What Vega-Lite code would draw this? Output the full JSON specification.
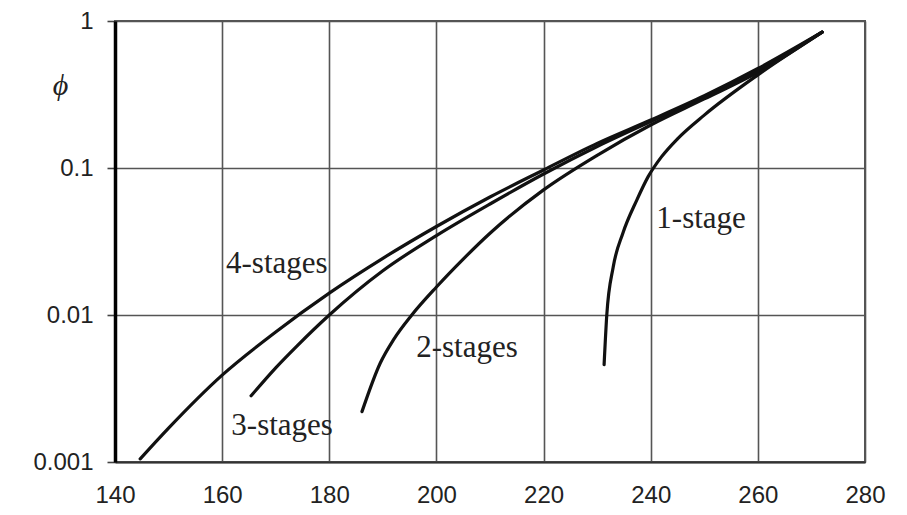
{
  "$schema": "https://vega.github.io/schema/vega-lite/v6.json",
  "width": 750,
  "height": 441,
  "autosize": "none",
  "padding": {"left": 115, "top": 21, "right": 42, "bottom": 53},
  "background": "white",
  "config": {
    "view": {"stroke": "#555", "strokeWidth": 2},
    "axis": {"labelFont": "Liberation Sans", "labelColor": "#222", "labelFontSize": 24, "gridColor": "#555", "gridWidth": 1.6, "gridOpacity": 1}
  },
  "datasets": {
    "curves": [
      {"series": "4-stages", "T": 144.7, "phi": 0.00105},
      {"series": "4-stages", "T": 150, "phi": 0.0017},
      {"series": "4-stages", "T": 160, "phi": 0.0039},
      {"series": "4-stages", "T": 170, "phi": 0.00767},
      {"series": "4-stages", "T": 180, "phi": 0.0141},
      {"series": "4-stages", "T": 190, "phi": 0.0243},
      {"series": "4-stages", "T": 200, "phi": 0.040},
      {"series": "4-stages", "T": 210, "phi": 0.0635},
      {"series": "4-stages", "T": 220, "phi": 0.097},
      {"series": "4-stages", "T": 230, "phi": 0.147},
      {"series": "4-stages", "T": 240, "phi": 0.212},
      {"series": "4-stages", "T": 250, "phi": 0.31},
      {"series": "4-stages", "T": 260, "phi": 0.475},
      {"series": "4-stages", "T": 272, "phi": 0.84},
      {"series": "3-stages", "T": 165.4, "phi": 0.00282},
      {"series": "3-stages", "T": 170, "phi": 0.00437},
      {"series": "3-stages", "T": 174, "phi": 0.00617},
      {"series": "3-stages", "T": 180, "phi": 0.01},
      {"series": "3-stages", "T": 190, "phi": 0.02},
      {"series": "3-stages", "T": 200, "phi": 0.0347},
      {"series": "3-stages", "T": 210, "phi": 0.0569},
      {"series": "3-stages", "T": 220, "phi": 0.091},
      {"series": "3-stages", "T": 230, "phi": 0.14},
      {"series": "3-stages", "T": 240, "phi": 0.207},
      {"series": "3-stages", "T": 250, "phi": 0.302},
      {"series": "3-stages", "T": 260, "phi": 0.462},
      {"series": "3-stages", "T": 272, "phi": 0.84},
      {"series": "2-stages", "T": 186.1, "phi": 0.0022},
      {"series": "2-stages", "T": 189.5, "phi": 0.0047},
      {"series": "2-stages", "T": 192, "phi": 0.0068},
      {"series": "2-stages", "T": 195.4, "phi": 0.01},
      {"series": "2-stages", "T": 200, "phi": 0.0155},
      {"series": "2-stages", "T": 205, "phi": 0.024},
      {"series": "2-stages", "T": 210, "phi": 0.036},
      {"series": "2-stages", "T": 220, "phi": 0.071},
      {"series": "2-stages", "T": 230, "phi": 0.122},
      {"series": "2-stages", "T": 240, "phi": 0.196},
      {"series": "2-stages", "T": 250, "phi": 0.295},
      {"series": "2-stages", "T": 260, "phi": 0.447},
      {"series": "2-stages", "T": 272, "phi": 0.84},
      {"series": "1-stage", "T": 231.3, "phi": 0.0046},
      {"series": "1-stage", "T": 231.8, "phi": 0.01},
      {"series": "1-stage", "T": 233.0, "phi": 0.0212},
      {"series": "1-stage", "T": 234.8, "phi": 0.036},
      {"series": "1-stage", "T": 237.4, "phi": 0.0605},
      {"series": "1-stage", "T": 239.5, "phi": 0.087},
      {"series": "1-stage", "T": 242, "phi": 0.119},
      {"series": "1-stage", "T": 245, "phi": 0.158},
      {"series": "1-stage", "T": 250, "phi": 0.229},
      {"series": "1-stage", "T": 260, "phi": 0.43},
      {"series": "1-stage", "T": 272, "phi": 0.84}
    ],
    "labels": [
      {"text": "4-stages", "T": 170.2, "phi": 0.0193},
      {"text": "3-stages", "T": 171.2, "phi": 0.00153},
      {"text": "2-stages", "T": 205.7, "phi": 0.00518},
      {"text": "1-stage", "T": 249.4, "phi": 0.039}
    ]
  },
  "layer": [
    {
      "data": {"name": "curves"},
      "mark": {"type": "line", "interpolate": "monotone", "strokeWidth": 3.2, "color": "#111", "strokeCap": "round"},
      "encoding": {
        "x": {
          "field": "T", "type": "quantitative",
          "scale": {"domain": [140, 280], "nice": false, "zero": false},
          "axis": {"values": [140, 160, 180, 200, 220, 240, 260, 280], "title": null, "tickSize": 0, "labelPadding": 21, "labelFlush": false, "domainColor": "#333", "domainWidth": 2.2, "grid": true}
        },
        "y": {
          "field": "phi", "type": "quantitative",
          "scale": {"type": "log", "domain": [0.001, 1], "nice": false},
          "axis": {
            "values": [0.001, 0.01, 0.1, 1], "format": "~g",
            "title": "ϕ", "titleAngle": 0, "titleFont": "Liberation Serif", "titleFontStyle": "italic", "titleFontWeight": "normal",
            "titleFontSize": 30, "titleColor": "#222", "titleX": -55, "titleY": 73, "titleAlign": "center", "titleBaseline": "alphabetic",
            "tickSize": 8, "tickColor": "#444", "tickWidth": 1.6, "labelPadding": 14, "labelFlush": false,
            "domainColor": "#000", "domainWidth": 3.5, "grid": true
          }
        },
        "detail": {"field": "series", "type": "nominal"}
      }
    },
    {
      "data": {"name": "labels"},
      "mark": {"type": "text", "font": "Liberation Serif", "fontSize": 31, "color": "#222", "align": "center", "baseline": "alphabetic"},
      "encoding": {
        "x": {"field": "T", "type": "quantitative"},
        "y": {"field": "phi", "type": "quantitative"},
        "text": {"field": "text", "type": "nominal"}
      }
    }
  ]
}
